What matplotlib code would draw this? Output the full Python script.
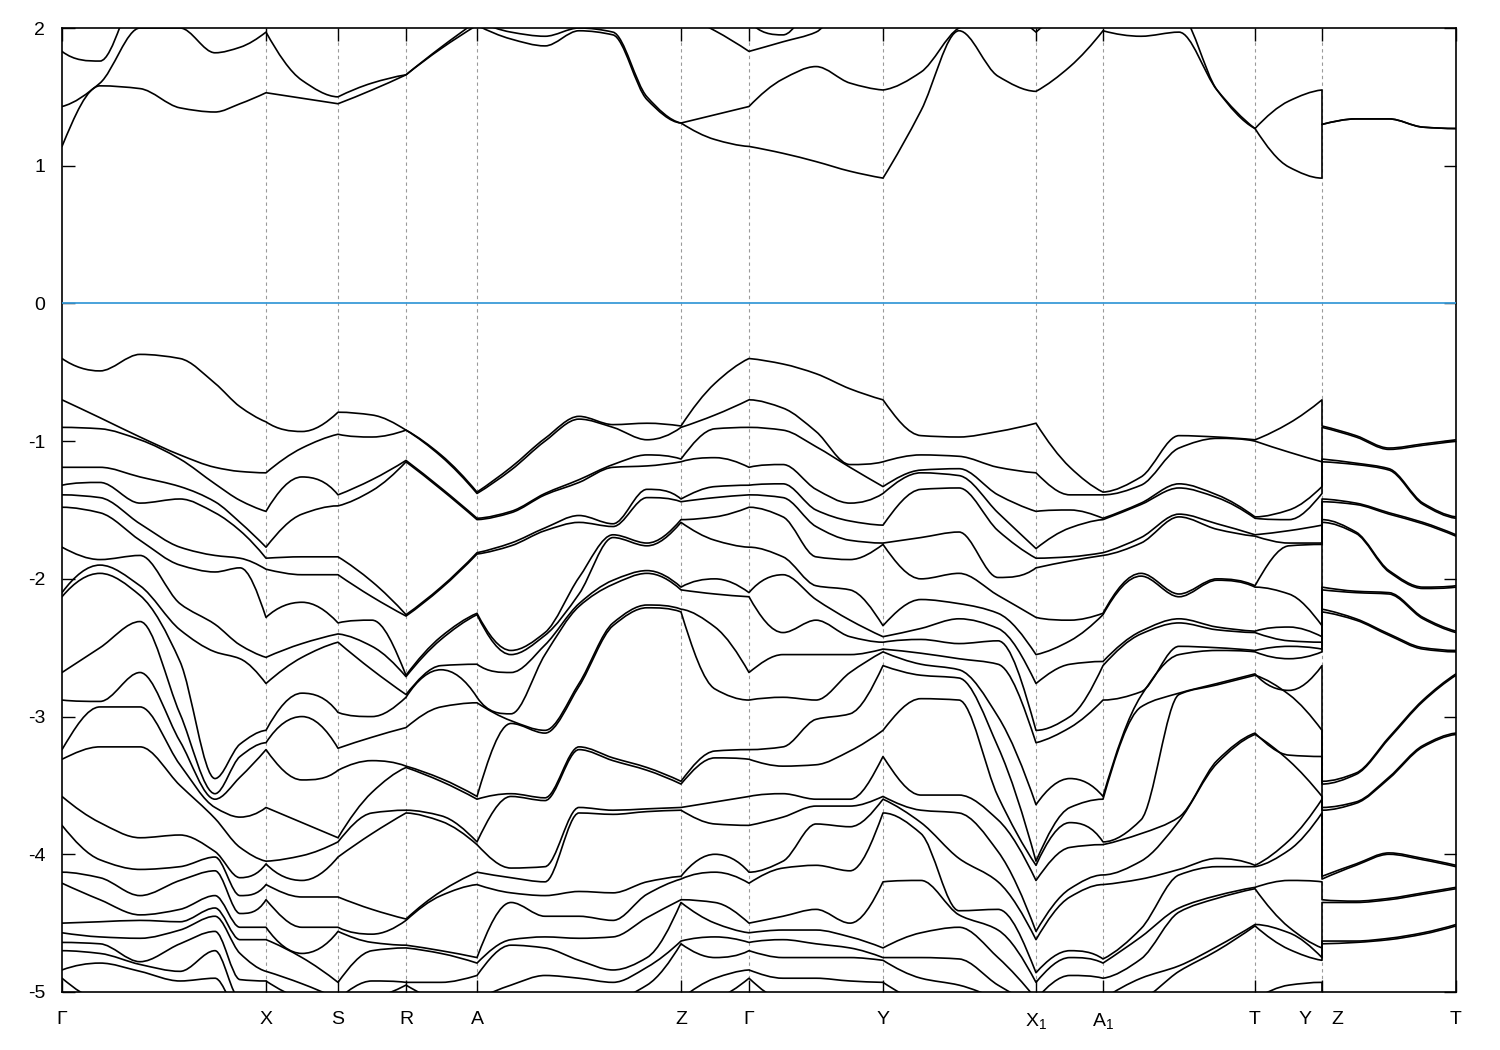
import matplotlib
matplotlib.use("Agg")
import matplotlib.pyplot as plt
from matplotlib.path import Path
from matplotlib.patches import PathPatch
from matplotlib.transforms import offset_copy
import numpy as np

plt.rcParams['font.family'] = ['Liberation Sans', 'DejaVu Sans']
plt.rcParams['axes.unicode_minus'] = False
plt.rcParams['mathtext.default'] = 'regular'

# ---------------- data ----------------
# high-symmetry points along the k-path
hs_labels = ['Γ', 'X', 'S', 'R', 'A', 'Z', 'Γ', 'Y', 'X$_1$', 'A$_1$', 'T', '', 'T']
hs_k = [0.00, 2.04, 2.76, 3.44, 4.15, 6.19, 6.87, 8.21, 9.74, 10.41, 11.93, 12.60, 13.94]
# column index of every high-symmetry point in k_path (Y and Z share k = 12.60)
hs_index = [0, 6, 8, 10, 12, 18, 20, 24, 28, 30, 34, 36, 37, 41]

# k positions of the sampled columns
k_path = [0.00, 0.38, 0.78, 1.18, 1.53, 1.78, 2.04, 2.40, 2.76, 3.10,
          3.44, 3.79, 4.15, 4.49, 4.83, 5.17, 5.51, 5.85, 6.19, 6.53,
          6.87, 7.21, 7.54, 7.88, 8.21, 8.59, 8.97, 9.36, 9.74, 10.08,
          10.41, 10.79, 11.17, 11.55, 11.93, 12.27, 12.60, 12.60, 12.94, 13.27,
          13.61, 13.94]

# valence-band energies (eV, sorted) at each sampled k
ev_G = [-0.40, -0.70, -0.90, -1.19, -1.32, -1.39, -1.48, -1.77, -2.10, -2.13, -2.68, -2.88,
        -3.24, -3.31, -3.58, -3.79, -4.13, -4.21, -4.50, -4.57, -4.64, -4.70, -4.84, -4.90]
ev_01 = [-0.49, -0.83, -0.91, -1.19, -1.30, -1.41, -1.52, -1.86, -1.90, -1.96, -2.50, -2.89,
         -2.93, -3.22, -3.77, -4.04, -4.17, -4.33, -4.49, -4.60, -4.65, -4.72, -4.79, -5.05]
ev_02 = [-0.37, -0.97, -0.99, -1.26, -1.45, -1.60, -1.72, -1.83, -2.05, -2.12, -2.31, -2.68,
         -2.93, -3.22, -3.88, -4.11, -4.30, -4.44, -4.48, -4.61, -4.78, -4.80, -4.85, -5.05]
ev_03 = [-0.40, -1.10, -1.13, -1.33, -1.42, -1.77, -1.90, -2.18, -2.37, -2.60, -2.98, -3.18,
         -3.35, -3.50, -3.86, -4.09, -4.19, -4.40, -4.49, -4.55, -4.65, -4.85, -4.92, -5.05]
ev_04 = [-0.58, -1.19, -1.31, -1.44, -1.52, -1.83, -1.95, -2.33, -2.53, -3.45, -3.56, -3.60,
         -3.66, -3.74, -3.98, -4.02, -4.12, -4.30, -4.39, -4.45, -4.56, -4.70, -4.90, -5.05]
ev_05 = [-0.75, -1.22, -1.43, -1.59, -1.65, -1.85, -1.92, -2.48, -2.58, -3.20, -3.29, -3.44,
         -3.73, -3.95, -4.17, -4.30, -4.43, -4.53, -4.62, -4.72, -4.91, -5.05, -5.15, -5.25]
ev_X = [-0.86, -1.23, -1.51, -1.77, -1.85, -1.93, -2.28, -2.57, -2.76, -3.10, -3.19, -3.24,
        -3.66, -4.05, -4.07, -4.22, -4.33, -4.53, -4.62, -4.85, -4.92, -5.05, -5.15, -5.25]
ev_07 = [-0.93, -1.05, -1.26, -1.53, -1.84, -1.97, -2.17, -2.47, -2.57, -2.83, -3.00, -3.46,
         -3.77, -4.01, -4.19, -4.31, -4.53, -4.72, -4.75, -4.94, -5.05, -5.10, -5.15, -5.25]
ev_S = [-0.79, -0.95, -1.39, -1.47, -1.84, -1.97, -2.32, -2.40, -2.46, -2.97, -3.23, -3.39,
        -3.88, -3.91, -4.02, -4.31, -4.53, -4.56, -4.93, -5.05, -5.10, -5.15, -5.20, -5.25]
ev_09 = [-0.81, -0.97, -1.28, -1.36, -2.02, -2.13, -2.30, -2.49, -2.66, -3.00, -3.15, -3.32,
         -3.55, -3.70, -3.85, -4.40, -4.58, -4.64, -4.70, -4.92, -5.05, -5.10, -5.15, -5.20]
ev_R = [-0.92, -0.92, -1.14, -1.15, -2.26, -2.27, -2.70, -2.71, -2.84, -2.86, -3.08, -3.36,
        -3.37, -3.68, -3.70, -4.47, -4.48, -4.66, -4.68, -4.93, -4.95, -5.05, -5.10, -5.15]
ev_11 = [-1.10, -1.11, -1.34, -1.35, -2.06, -2.07, -2.42, -2.44, -2.63, -2.66, -2.93, -3.45,
         -3.47, -3.72, -3.76, -4.27, -4.30, -4.70, -4.72, -4.93, -5.05, -5.10, -5.15, -5.20]
ev_A = [-1.37, -1.38, -1.56, -1.57, -1.81, -1.82, -2.25, -2.26, -2.62, -2.86, -2.90, -3.58,
        -3.60, -3.91, -3.93, -4.13, -4.22, -4.75, -4.79, -4.88, -5.05, -5.10, -5.15, -5.20]
ev_13 = [-1.19, -1.21, -1.51, -1.52, -1.74, -1.76, -2.52, -2.55, -2.68, -2.98, -3.03, -3.05,
         -3.56, -3.58, -4.10, -4.17, -4.28, -4.35, -4.62, -4.66, -4.95, -5.05, -5.10, -5.15]
ev_14 = [-0.98, -1.00, -1.38, -1.39, -1.63, -1.65, -2.39, -2.41, -2.48, -2.55, -3.10, -3.12,
         -3.59, -3.61, -4.09, -4.20, -4.30, -4.45, -4.60, -4.68, -4.88, -5.05, -5.10, -5.15]
ev_15 = [-0.82, -0.84, -1.28, -1.30, -1.54, -1.59, -1.99, -2.11, -2.18, -2.20, -2.76, -2.78,
         -3.22, -3.24, -3.66, -3.70, -4.27, -4.45, -4.61, -4.77, -4.90, -5.05, -5.10, -5.15]
ev_16 = [-0.88, -0.90, -1.17, -1.19, -1.60, -1.62, -1.68, -1.70, -2.01, -2.04, -2.32, -2.34,
         -3.30, -3.32, -3.68, -3.71, -4.28, -4.48, -4.60, -4.84, -4.93, -5.05, -5.10, -5.15]
ev_17 = [-0.87, -0.99, -1.10, -1.18, -1.35, -1.41, -1.74, -1.76, -1.94, -1.96, -2.19, -2.21,
         -3.37, -3.39, -3.67, -3.69, -4.20, -4.29, -4.46, -4.75, -4.82, -4.95, -5.10, -5.15]
ev_Z = [-0.89, -0.90, -1.13, -1.15, -1.42, -1.44, -1.57, -1.59, -2.06, -2.08, -2.22, -2.24,
        -3.47, -3.49, -3.66, -3.68, -4.16, -4.18, -4.33, -4.35, -4.63, -4.65, -5.05, -5.10]
ev_19 = [-0.58, -0.81, -0.91, -1.12, -1.33, -1.41, -1.55, -1.72, -2.00, -2.11, -2.35, -2.80,
         -3.25, -3.30, -3.62, -3.78, -4.00, -4.13, -4.35, -4.50, -4.60, -4.75, -4.90, -5.05]
ev_21 = [-0.44, -0.76, -0.92, -1.17, -1.31, -1.41, -1.55, -1.84, -1.97, -2.39, -2.55, -2.86,
         -3.22, -3.36, -3.56, -3.73, -4.05, -4.10, -4.45, -4.55, -4.62, -4.75, -4.90, -5.05]
ev_22 = [-0.51, -0.93, -1.04, -1.35, -1.50, -1.62, -1.84, -2.05, -2.15, -2.30, -2.55, -2.88,
         -3.02, -3.35, -3.60, -3.65, -3.78, -4.08, -4.40, -4.55, -4.65, -4.75, -4.90, -5.05]
ev_23 = [-0.62, -1.17, -1.19, -1.45, -1.58, -1.72, -1.86, -2.08, -2.30, -2.42, -2.55, -2.68,
         -2.98, -3.25, -3.60, -3.65, -3.80, -4.12, -4.50, -4.60, -4.68, -4.75, -4.92, -5.05]
ev_Y = [-0.70, -1.15, -1.33, -1.38, -1.61, -1.74, -1.75, -2.34, -2.42, -2.46, -2.51, -2.53,
        -2.63, -3.10, -3.29, -3.58, -3.60, -3.70, -4.20, -4.68, -4.75, -4.77, -4.93, -5.05]
ev_25 = [-0.96, -1.10, -1.21, -1.23, -1.35, -1.70, -2.00, -2.15, -2.36, -2.44, -2.54, -2.62,
         -2.70, -2.87, -3.57, -3.68, -3.77, -3.85, -4.19, -4.57, -4.75, -4.90, -5.05, -5.10]
ev_26 = [-0.97, -1.11, -1.20, -1.25, -1.34, -1.66, -1.96, -2.18, -2.29, -2.47, -2.58, -2.66,
         -2.72, -2.88, -3.57, -3.70, -4.03, -4.41, -4.44, -4.53, -4.76, -4.95, -5.05, -5.10]
ev_27 = [-0.93, -1.19, -1.39, -1.52, -1.65, -1.99, -2.12, -2.25, -2.36, -2.45, -2.62, -3.00,
         -3.22, -3.58, -3.75, -3.98, -4.20, -4.40, -4.55, -4.75, -4.95, -5.05, -5.10, -5.15]
ev_X1 = [-0.87, -1.23, -1.51, -1.78, -1.85, -1.92, -2.28, -2.55, -2.76, -3.10, -3.19, -3.64,
         -4.05, -4.08, -4.19, -4.56, -4.62, -4.86, -4.93, -5.05, -5.10, -5.15, -5.20, -5.25]
ev_29 = [-1.19, -1.39, -1.50, -1.63, -1.84, -1.87, -2.30, -2.45, -2.62, -3.00, -3.08, -3.45,
         -3.66, -3.77, -3.95, -4.25, -4.31, -4.70, -4.75, -4.88, -5.05, -5.10, -5.15, -5.20]
ev_A1 = [-1.37, -1.39, -1.56, -1.57, -1.81, -1.83, -2.25, -2.26, -2.60, -2.63, -2.88, -3.58,
         -3.60, -3.91, -3.93, -4.15, -4.22, -4.76, -4.79, -4.90, -5.05, -5.10, -5.15, -5.20]
ev_31 = [-1.26, -1.32, -1.45, -1.46, -1.70, -1.74, -1.96, -1.98, -2.38, -2.40, -2.82, -2.85,
         -2.93, -3.75, -3.85, -4.05, -4.18, -4.54, -4.60, -4.76, -4.90, -5.05, -5.10, -5.15]
ev_32 = [-0.96, -1.05, -1.31, -1.34, -1.53, -1.55, -2.11, -2.13, -2.29, -2.32, -2.49, -2.55,
         -2.83, -2.84, -3.73, -3.76, -4.11, -4.15, -4.39, -4.42, -4.81, -4.85, -5.05, -5.10]
ev_33 = [-0.97, -0.98, -1.39, -1.41, -1.60, -1.64, -2.00, -2.01, -2.35, -2.37, -2.50, -2.52,
         -2.76, -2.77, -3.32, -3.34, -4.03, -4.09, -4.30, -4.32, -4.67, -4.70, -5.05, -5.10]
ev_T = [-0.99, -1.00, -1.55, -1.56, -1.68, -1.69, -2.05, -2.06, -2.38, -2.39, -2.52, -2.53,
        -2.69, -2.70, -3.12, -3.13, -4.08, -4.09, -4.24, -4.25, -4.51, -4.52, -5.05, -5.10]
ev_35 = [-0.87, -1.08, -1.50, -1.57, -1.65, -1.74, -1.76, -2.11, -2.35, -2.45, -2.49, -2.58,
         -2.81, -2.84, -3.28, -3.32, -3.90, -3.97, -4.19, -4.53, -4.57, -4.69, -4.95, -5.05]
ev_38 = [-0.96, -0.97, -1.16, -1.17, -1.45, -1.46, -1.66, -1.67, -2.09, -2.10, -2.29, -2.30,
         -3.41, -3.42, -3.62, -3.63, -4.07, -4.08, -4.34, -4.35, -4.63, -4.64, -5.05, -5.10]
ev_39 = [-1.05, -1.06, -1.20, -1.21, -1.52, -1.53, -1.94, -1.95, -2.10, -2.11, -2.40, -2.41,
         -3.15, -3.16, -3.44, -3.45, -3.99, -4.00, -4.32, -4.33, -4.61, -4.62, -5.05, -5.10]
ev_40 = [-1.02, -1.03, -1.45, -1.46, -1.59, -1.60, -2.06, -2.07, -2.28, -2.29, -2.50, -2.51,
         -2.88, -2.89, -3.21, -3.22, -4.03, -4.04, -4.28, -4.29, -4.57, -4.58, -5.05, -5.10]

valence_columns = [ev_G, ev_01, ev_02, ev_03, ev_04, ev_05, ev_X, ev_07, ev_S, ev_09,
                   ev_R, ev_11, ev_A, ev_13, ev_14, ev_15, ev_16, ev_17, ev_Z, ev_19,
                   ev_G, ev_21, ev_22, ev_23, ev_Y, ev_25, ev_26, ev_27, ev_X1, ev_29,
                   ev_A1, ev_31, ev_32, ev_33, ev_T, ev_35, ev_Y, ev_Z, ev_38, ev_39,
                   ev_40, ev_T]

# conduction bands (sorted), one array per band
cb1 = [1.14, 1.58, 1.56, 1.42, 1.39, 1.45, 1.53, 1.49, 1.45, 1.55,
       1.66, 1.85, 2.02, 1.92, 1.87, 1.98, 1.95, 1.48, 1.31, 1.19,
       1.14, 1.09, 1.03, 0.96, 0.91, 1.40, 1.98, 1.65, 1.54, 1.72,
       1.98, 1.94, 1.97, 1.55, 1.27, 0.99, 0.91, 1.30, 1.34, 1.34,
       1.28, 1.27]
cb2 = [1.43, 1.60, 2.00, 2.00, 1.82, 1.86, 1.97, 1.62, 1.50, 1.60,
       1.66, 1.86, 2.05, 1.97, 1.94, 2.00, 1.97, 1.50, 1.31, 1.37,
       1.43, 1.63, 1.72, 1.60, 1.55, 1.68, 2.00, 2.10, 1.97, 2.10,
       2.05, 2.10, 2.10, 1.55, 1.27, 1.47, 1.55, 1.30, 1.34, 1.34,
       1.28, 1.27]
cb3 = [1.83, 1.76, 2.30, 2.40, 2.30, 2.20, 2.10, 2.10, 2.20, 2.20,
       2.20, 2.20, 2.20, 2.20, 2.20, 2.20, 2.20, 2.30, 2.10, 1.98,
       1.83, 1.90, 1.97, 2.20, 2.10, 2.20, 2.20, 2.20, 2.10, 2.20,
       2.20, 2.20, 2.20, 2.20, 2.10, 2.10, 2.10, 2.20, 2.20, 2.20,
       2.20, 2.10]
cb4 = [2.10, 2.30, 2.40, 2.50, 2.40, 2.30, 2.30, 2.30, 2.30, 2.30,
       2.30, 2.30, 2.30, 2.30, 2.30, 2.30, 2.30, 2.40, 2.20, 2.10,
       2.05, 1.95, 2.20, 2.30, 2.30, 2.30, 2.30, 2.30, 2.30, 2.30,
       2.30, 2.30, 2.30, 2.30, 2.20, 2.20, 2.30, 2.30, 2.30, 2.30,
       2.30, 2.20]
conduction_bands = [cb1, cb2, cb3, cb4]

fermi_level = 0.0
y_ticks = [-5, -4, -3, -2, -1, 0, 1, 2]


# ---------------- helpers ----------------
def pchip_slopes(x, y):
    """Shape-preserving (monotone) tangents for a smooth curve through the points."""
    n = len(x)
    h = np.diff(x)
    d = np.diff(y) / h
    m = np.zeros(n)
    if n == 2:
        m[:] = d[0]
        return m
    for i in range(1, n - 1):
        if d[i - 1] * d[i] <= 0:
            m[i] = 0.0
        else:
            w1 = 2 * h[i] + h[i - 1]
            w2 = h[i] + 2 * h[i - 1]
            m[i] = (w1 + w2) / (w1 / d[i - 1] + w2 / d[i])

    def end(h0, h1, d0, d1):
        s = ((2 * h0 + h1) * d0 - h0 * d1) / (h0 + h1)
        if np.sign(s) != np.sign(d0):
            s = 0.0
        elif np.sign(d0) != np.sign(d1) and abs(s) > abs(3 * d0):
            s = 3 * d0
        return s

    m[0] = end(h[0], h[1], d[0], d[1])
    m[-1] = end(h[-1], h[-2], d[-1], d[-2])
    return m


def band_path(kk, ee, breaks):
    verts = [(kk[0], ee[0])]
    codes = [Path.MOVETO]
    for a, b in zip(breaks[:-1], breaks[1:]):
        xs = kk[a:b + 1]
        ys = ee[a:b + 1]
        if xs[-1] - xs[0] <= 0:
            verts.append((xs[-1], ys[-1]))
            codes.append(Path.LINETO)
            continue
        m = pchip_slopes(xs, ys)
        for i in range(len(xs) - 1):
            hh = xs[i + 1] - xs[i]
            verts += [(xs[i] + hh / 3, ys[i] + m[i] * hh / 3),
                      (xs[i + 1] - hh / 3, ys[i + 1] - m[i + 1] * hh / 3),
                      (xs[i + 1], ys[i + 1])]
            codes += [Path.CURVE4] * 3
    return Path(verts, codes)


# ---------------- plot ----------------
fig = plt.figure(figsize=(15, 10.5), dpi=100)
ax = fig.add_axes([62 / 1500, 1 - 992 / 1050, (1456 - 62) / 1500, (992 - 28) / 1050])

k = np.array(k_path, dtype=float)
valence = np.array(valence_columns, dtype=float)
all_bands = [valence[:, j] for j in range(valence.shape[1])] + \
            [np.array(b, dtype=float) for b in conduction_bands]
for band in all_bands:
    patch = PathPatch(band_path(k, band, hs_index), facecolor='none',
                      edgecolor='black', lw=1.2, joinstyle='round', capstyle='round')
    ax.add_patch(patch)

for kv in hs_k[1:-1]:
    ax.axvline(kv, color='#9a9a9a', lw=0.8, ls=(0, (3, 3)), zorder=0)

ax.axhline(fermi_level, color='#3a9bd8', lw=1.3, zorder=3)

ax.set_xlim(hs_k[0], hs_k[-1])
ax.set_ylim(-5, 2)
ax.set_yticks(y_ticks)
ax.set_yticklabels([str(v) for v in y_ticks])
ax.set_xticks(hs_k)
ax.set_xticklabels(hs_labels)

ax.tick_params(axis='both', direction='in', top=True, right=True, length=9,
               width=1.0, labelsize=14)
ax.tick_params(axis='x', pad=14)
ax.tick_params(axis='y', pad=12)

# split label at the Y|Z discontinuity
yz = hs_k[11]
lab_tr = offset_copy(ax.transData, fig=fig, x=0, y=-14, units='points')
ax.text(yz - 0.17, -5.0, 'Y', transform=lab_tr, ha='center', va='top', fontsize=14)
ax.text(yz + 0.15, -5.0, 'Z', transform=lab_tr, ha='center', va='top', fontsize=14)

for s in ax.spines.values():
    s.set_linewidth(1.2)

fig.savefig('out.png', dpi=100)
